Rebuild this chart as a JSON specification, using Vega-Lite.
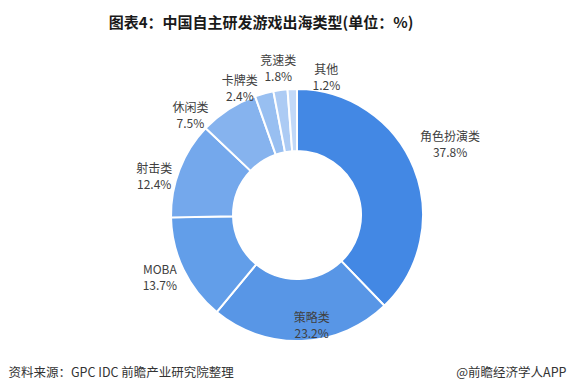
{
  "$schema": "https://vega.github.io/schema/vega-lite/v6.json",
  "width": 552,
  "height": 230,
  "autosize": {"type": "none"},
  "padding": {"left": 21, "top": 100, "right": 0, "bottom": 62},
  "background": "white",
  "title": {"text": "图表4：中国自主研发游戏出海类型(单位：%)", "anchor": "middle", "frame": "group", "dx": -36, "offset": 24, "font": "Noto Sans CJK SC", "fontSize": 15, "fontWeight": "bold", "color": "#1a1a1a"},
  "data": {"values": [
    {"type": "角色扮演类", "share": 37.8},
    {"type": "策略类", "share": 23.2},
    {"type": "MOBA", "share": 13.7},
    {"type": "射击类", "share": 12.4},
    {"type": "休闲类", "share": 7.5},
    {"type": "卡牌类", "share": 2.4},
    {"type": "竞速类", "share": 1.8},
    {"type": "其他", "share": 1.2}
  ]},
  "transform": [
    {"calculate": "datum.type + '\\n' + format(datum.share, '.1f') + '%'", "as": "label"},
    {"window": [{"op": "sum", "field": "share", "as": "cum"}], "sort": [{"field": "share", "order": "descending"}], "frame": [null, 0]},
    {"calculate": "datum.cum - datum.share / 2", "as": "mid"}
  ],
  "layer": [
    {
      "mark": {"type": "arc", "innerRadius": 64, "outerRadius": 126, "stroke": "white", "strokeWidth": 2},
      "encoding": {
        "theta": {"field": "share", "type": "quantitative", "stack": true, "scale": {"domain": [0, 100]}},
        "order": {"field": "share", "sort": "descending"},
        "color": {"field": "type", "type": "nominal", "legend": null,
          "scale": {"domain": ["角色扮演类", "策略类", "MOBA", "射击类", "休闲类", "卡牌类", "竞速类", "其他"],
                    "range": ["#4388E4", "#5896E6", "#629EE9", "#74A8EC", "#86B3EE", "#98BFF1", "#ACCBF4", "#C2D9F8"]}}
      }
    },
    {
      "transform": [{"filter": "datum.type === '角色扮演类'"}],
      "mark": {"type": "text", "radius": 150, "dx": 14, "dy": -22, "lineBreak": "\n", "lineHeight": 16, "font": "Noto Sans CJK SC", "fontSize": 12, "color": "#404040", "align": "center", "baseline": "middle"},
      "encoding": {"theta": {"field": "mid", "type": "quantitative", "stack": false, "scale": {"domain": [0, 100]}}, "text": {"field": "label"}}
    },
    {
      "transform": [{"filter": "datum.type === '策略类'"}],
      "mark": {"type": "text", "radius": 150, "dx": 9, "dy": -47, "lineBreak": "\n", "lineHeight": 16, "font": "Noto Sans CJK SC", "fontSize": 12, "color": "#404040", "align": "center", "baseline": "middle"},
      "encoding": {"theta": {"field": "mid", "type": "quantitative", "stack": false, "scale": {"domain": [0, 100]}}, "text": {"field": "label"}}
    },
    {
      "transform": [{"filter": "datum.type === 'MOBA'"}],
      "mark": {"type": "text", "radius": 150, "dx": -2, "dy": -10, "lineBreak": "\n", "lineHeight": 16, "font": "Noto Sans CJK SC", "fontSize": 12, "color": "#404040", "align": "center", "baseline": "middle"},
      "encoding": {"theta": {"field": "mid", "type": "quantitative", "stack": false, "scale": {"domain": [0, 100]}}, "text": {"field": "label"}}
    },
    {
      "transform": [{"filter": "datum.type === '射击类'"}],
      "mark": {"type": "text", "radius": 150, "dx": -3, "dy": 8, "lineBreak": "\n", "lineHeight": 16, "font": "Noto Sans CJK SC", "fontSize": 12, "color": "#404040", "align": "center", "baseline": "middle"},
      "encoding": {"theta": {"field": "mid", "type": "quantitative", "stack": false, "scale": {"domain": [0, 100]}}, "text": {"field": "label"}}
    },
    {
      "transform": [{"filter": "datum.type === '休闲类'"}],
      "mark": {"type": "text", "radius": 150, "dx": -25, "dy": 19, "lineBreak": "\n", "lineHeight": 16, "font": "Noto Sans CJK SC", "fontSize": 12, "color": "#404040", "align": "center", "baseline": "middle"},
      "encoding": {"theta": {"field": "mid", "type": "quantitative", "stack": false, "scale": {"domain": [0, 100]}}, "text": {"field": "label"}}
    },
    {
      "transform": [{"filter": "datum.type === '卡牌类'"}],
      "mark": {"type": "text", "radius": 150, "dx": -18, "dy": 11, "lineBreak": "\n", "lineHeight": 16, "font": "Noto Sans CJK SC", "fontSize": 12, "color": "#404040", "align": "center", "baseline": "middle"},
      "encoding": {"theta": {"field": "mid", "type": "quantitative", "stack": false, "scale": {"domain": [0, 100]}}, "text": {"field": "label"}}
    },
    {
      "transform": [{"filter": "datum.type === '竞速类'"}],
      "mark": {"type": "text", "radius": 150, "dx": 1, "dy": -5, "lineBreak": "\n", "lineHeight": 16, "font": "Noto Sans CJK SC", "fontSize": 12, "color": "#404040", "align": "center", "baseline": "middle"},
      "encoding": {"theta": {"field": "mid", "type": "quantitative", "stack": false, "scale": {"domain": [0, 100]}}, "text": {"field": "label"}}
    },
    {
      "transform": [{"filter": "datum.type === '其他'"}],
      "mark": {"type": "text", "radius": 150, "dx": 35, "dy": 5, "lineBreak": "\n", "lineHeight": 16, "font": "Noto Sans CJK SC", "fontSize": 12, "color": "#404040", "align": "center", "baseline": "middle"},
      "encoding": {"theta": {"field": "mid", "type": "quantitative", "stack": false, "scale": {"domain": [0, 100]}}, "text": {"field": "label"}}
    },
    {
      "data": {"values": [{}]},
      "mark": {"type": "point", "opacity": 0},
      "encoding": {
        "x": {"datum": 0, "type": "quantitative", "axis": {"title": "资料来源：GPC IDC 前瞻产业研究院整理", "labels": false, "ticks": false, "domain": false, "grid": false, "titleX": -13, "titleY": 42, "titleAlign": "left", "titleBaseline": "middle", "titleFont": "Noto Sans CJK SC", "titleFontSize": 12.5, "titleFontWeight": "normal", "titleColor": "#333333"}},
        "y": {"datum": 0, "type": "quantitative", "axis": {"orient": "right", "title": "@前瞻经济学人APP", "labels": false, "ticks": false, "domain": false, "grid": false, "titleAngle": 0, "titleX": -7, "titleY": 272, "titleAlign": "right", "titleBaseline": "middle", "titleFont": "Noto Sans CJK SC", "titleFontSize": 12.5, "titleFontWeight": "normal", "titleColor": "#333333"}}
      }
    }
  ],
  "config": {"view": {"stroke": null}}
}
